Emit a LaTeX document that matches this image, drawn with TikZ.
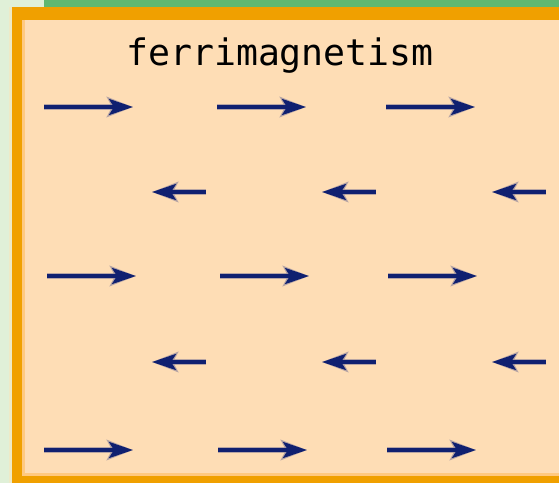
\documentclass[tikz,border=0pt]{standalone}
\usepackage{fontspec}
\newfontfamily\titlefont{DejaVu Sans Mono}
\usetikzlibrary{arrows.meta}
\definecolor{peach}{HTML}{FEDDB5}
\definecolor{borderorange}{HTML}{F0A000}
\definecolor{paleorange}{HTML}{FFC980}
\definecolor{topgreen}{HTML}{60B870}
\definecolor{lightgreen}{HTML}{E0F0D8}
\definecolor{paleleft}{HTML}{EEEAC8}
\definecolor{spinblue}{HTML}{102070}
\definecolor{spinhalo}{HTML}{9A8E9E}
\tikzset{
  spin/.style={draw=spinblue, line width=3.4pt,
    -{Stealth[length=24pt, width=16pt, inset=5pt]}},
  halo/.style={draw=spinhalo, line width=6.5pt, opacity=0.7,
    -{Stealth[length=26pt, width=20pt, inset=5pt]}},
  titletext/.style={font=\titlefont\fontsize{36.5}{40}\selectfont, text=black, inner sep=0pt, anchor=base}
}
\begin{document}
\begin{tikzpicture}[x=1pt, y=-1pt]
\useasboundingbox (0,0) rectangle (559,483);
% background bands
\fill[lightgreen] (0,0) rectangle (559,483);
\fill[topgreen] (44,0) rectangle (559,7);
\fill[paleleft] (9,7) rectangle (12,483);
\fill[borderorange] (12,7) rectangle (559,483);
\fill[paleorange] (22,20) rectangle (559,476);
\fill[peach] (25,20) rectangle (559,473);
% title
\node[titletext] (title) at (280,65) {ferrimagnetism};
% spins
\foreach \y/\xa/\xb/\xc in {107/44/217/386, 276/47/220/388, 450/44/218/387}{
  \draw[halo] (\xa,\y) -- ++(89,0);
  \draw[halo] (\xb,\y) -- ++(89,0);
  \draw[halo] (\xc,\y) -- ++(89,0);
  \draw[spin] (\xa,\y) -- ++(89,0);
  \draw[spin] (\xb,\y) -- ++(89,0);
  \draw[spin] (\xc,\y) -- ++(89,0);
}
\foreach \y in {192, 362}{
  \foreach \x in {206, 376, 546}{
    \draw[halo] (\x,\y) -- ++(-54,0);
    \draw[spin] (\x,\y) -- ++(-54,0);
  }
}
\end{tikzpicture}
\end{document}
